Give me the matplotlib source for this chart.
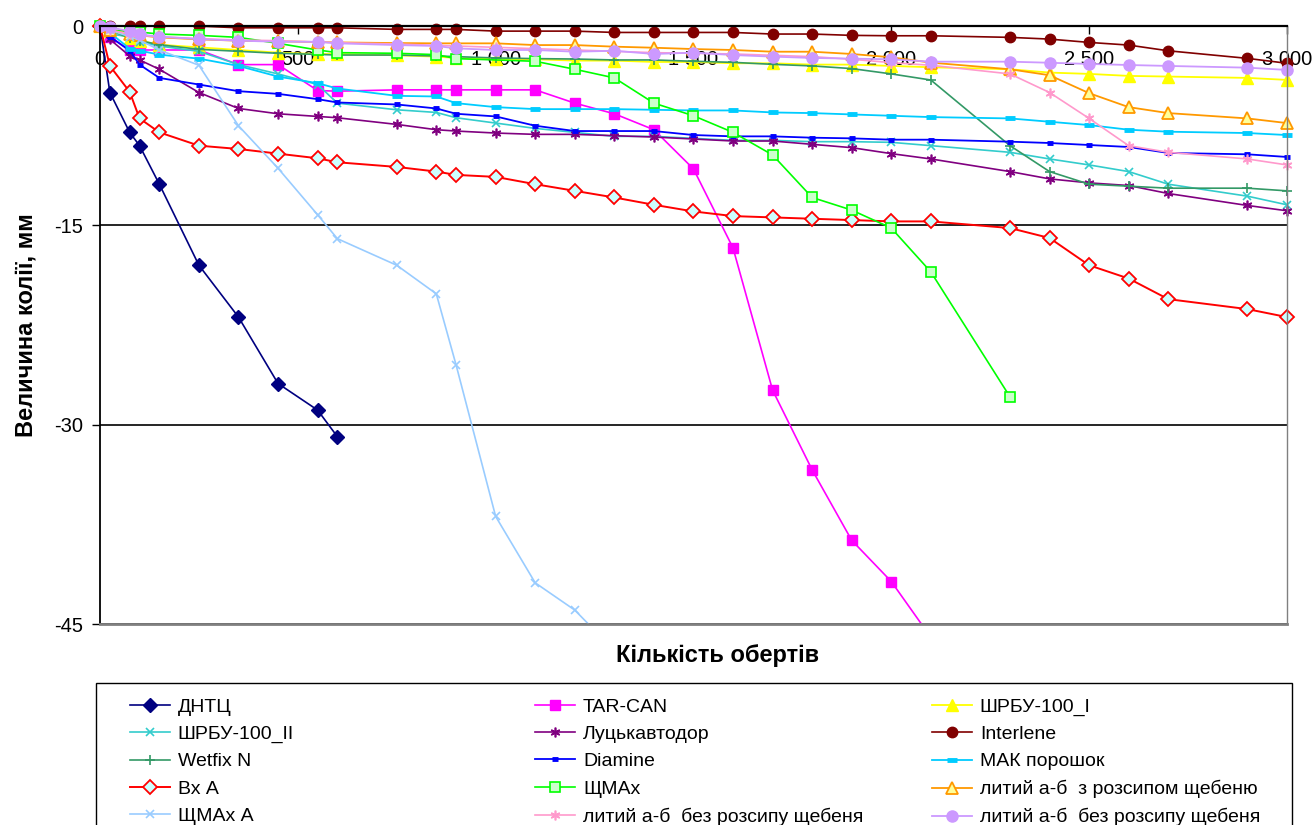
import matplotlib

matplotlib.use("Agg")
import matplotlib.pyplot as plt
from matplotlib.patches import Rectangle

# rounds (x) at which rut depth was measured
X_FULL = [0, 25, 75, 100, 150, 250, 350, 450, 550, 600, 750, 850, 900, 1000,
          1100, 1200, 1300, 1400, 1500, 1600, 1700, 1800, 1900, 2000, 2100,
          2300, 2400, 2500, 2600, 2700, 2900, 3000]
X_SHMAX = [0, 25, 75, 100, 150, 250, 350, 450, 550, 600, 750, 850, 900,
           1100, 1200, 1300, 1400, 1500, 1600, 1700, 1800, 1900, 2000, 2100, 2300]

Y_DNTC = [0, -5.0, -8.0, -9.0, -11.9, -18.0, -21.9, -26.9, -28.9, -30.9]
Y_TARCAN = [0, -0.8, -1.8, -1.8, -1.8, -1.8, -2.9, -2.9, -4.85, -4.9, -4.8, -4.8,
            -4.8, -4.8, -4.8, -5.8, -6.6, -7.8, -10.75, -16.7, -27.4, -33.4,
            -38.7, -41.8, -46.0]
Y_SHRBU_I = [0, -0.4, -0.9, -1.1, -1.4, -1.6, -1.8, -2.0, -2.1, -2.1, -2.2, -2.3,
             -2.4, -2.5, -2.5, -2.6, -2.6, -2.7, -2.7, -2.8, -2.8, -2.9, -2.9,
             -3.0, -3.1, -3.25, -3.5, -3.6, -3.75, -3.8, -3.9, -4.05]
Y_SHRBU_II = [0, -0.6, -0.8, -1.2, -1.5, -1.9, -2.9, -3.6, -4.4, -5.8, -6.3, -6.5,
              -6.9, -7.3, -7.7, -8.0, -8.3, -8.3, -8.45, -8.6, -8.6, -8.7, -8.7,
              -8.75, -9.0, -9.5, -10.0, -10.45, -10.95, -11.9, -12.8, -13.45]
Y_LUTSK = [0, -1.0, -2.25, -2.55, -3.25, -5.0, -6.2, -6.6, -6.8, -6.9, -7.4, -7.8,
           -7.9, -8.05, -8.15, -8.15, -8.25, -8.35, -8.5, -8.65, -8.65, -8.9,
           -9.15, -9.6, -10.0, -10.95, -11.5, -11.8, -12.0, -12.6, -13.5, -13.9]
Y_INTERLENE = [0, 0, 0, 0, 0, 0, -0.13, -0.13, -0.13, -0.13, -0.25, -0.25, -0.25,
               -0.38, -0.38, -0.38, -0.48, -0.48, -0.48, -0.48, -0.6, -0.6, -0.7,
               -0.73, -0.73, -0.85, -0.98, -1.23, -1.43, -1.86, -2.43, -2.8]
Y_WETFIX = [0, -0.3, -0.9, -1.1, -1.4, -1.75, -1.9, -2.05, -2.13, -2.18, -2.18,
            -2.25, -2.3, -2.4, -2.45, -2.48, -2.55, -2.55, -2.65, -2.73, -2.88,
            -3.0, -3.2, -3.6, -4.06, -9.0, -10.95, -11.9, -12.05, -12.2, -12.2, -12.4]
Y_DIAMINE = [0, -0.8, -1.85, -2.9, -3.9, -4.4, -4.9, -5.1, -5.5, -5.75, -5.9, -6.2,
             -6.6, -6.8, -7.5, -7.9, -7.9, -7.9, -8.2, -8.3, -8.3, -8.4, -8.45,
             -8.55, -8.55, -8.7, -8.8, -8.95, -9.1, -9.55, -9.65, -9.85]
Y_MAK = [0, -0.5, -1.7, -1.85, -2.15, -2.45, -3.0, -3.8, -4.3, -4.7, -5.25, -5.3,
         -5.8, -6.1, -6.25, -6.25, -6.25, -6.3, -6.35, -6.35, -6.5, -6.55, -6.65,
         -6.75, -6.85, -6.95, -7.2, -7.45, -7.8, -7.95, -8.05, -8.2]
Y_BXA = [0, -3.0, -4.95, -6.95, -8.0, -9.0, -9.25, -9.6, -9.95, -10.25, -10.6,
         -10.95, -11.2, -11.35, -11.9, -12.4, -12.9, -13.45, -13.95, -14.3, -14.4,
         -14.5, -14.6, -14.7, -14.7, -15.2, -15.95, -18.0, -19.0, -20.55, -21.3, -21.9]
Y_SHMAX = [0, -0.3, -0.4, -0.45, -0.6, -0.7, -0.85, -1.3, -1.8, -2.0, -2.05, -2.15,
           -2.45, -2.65, -3.25, -3.9, -5.8, -6.75, -8.0, -9.7, -12.9, -13.85,
           -15.2, -18.5, -27.9]
Y_LYTYI_Z = [0, -0.3, -0.6, -0.7, -0.85, -1.0, -1.1, -1.15, -1.2, -1.23, -1.28,
             -1.3, -1.3, -1.3, -1.43, -1.43, -1.55, -1.63, -1.73, -1.8, -1.93,
             -1.93, -2.1, -2.35, -2.75, -3.25, -3.7, -5.05, -6.1, -6.55, -6.95, -7.3]
Y_SHMAX_A = [0, -0.3, -0.8, -1.05, -1.8, -2.95, -7.5, -10.7, -14.2, -16.0, -18.0,
             -20.15, -25.5, -36.9, -41.9, -43.95, -47.0]
Y_LYTYI_BEZ1 = [0, -0.3, -0.6, -0.7, -0.8, -0.95, -1.05, -1.1, -1.2, -1.25, -1.35,
                -1.45, -1.5, -1.6, -1.7, -1.8, -1.9, -2.0, -2.05, -2.1, -2.2, -2.3,
                -2.5, -2.75, -2.95, -3.6, -5.0, -6.95, -9.0, -9.5, -10.0, -10.45]
Y_LYTYI_BEZ2 = [0, -0.1, -0.38, -0.63, -0.8, -0.98, -1.1, -1.18, -1.18, -1.3, -1.43,
                -1.5, -1.68, -1.8, -1.8, -1.93, -1.86, -2.1, -2.0, -2.18, -2.3, -2.4,
                -2.45, -2.5, -2.68, -2.68, -2.76, -2.85, -2.93, -3.0, -3.13, -3.3]

SERIES = [
    ("ДНТЦ", X_FULL[:len(Y_DNTC)], Y_DNTC),
    ("TAR-CAN", X_FULL[:len(Y_TARCAN)], Y_TARCAN),
    ("ШРБУ-100_I", X_FULL, Y_SHRBU_I),
    ("ШРБУ-100_II", X_FULL, Y_SHRBU_II),
    ("Луцькавтодор", X_FULL, Y_LUTSK),
    ("Interlene", X_FULL, Y_INTERLENE),
    ("Wetfix N", X_FULL, Y_WETFIX),
    ("Diamine", X_FULL, Y_DIAMINE),
    ("МАК порошок", X_FULL, Y_MAK),
    ("Вх А", X_FULL, Y_BXA),
    ("ЩМАх", X_SHMAX, Y_SHMAX),
    ("литий а-б  з розсипом щебеню", X_FULL, Y_LYTYI_Z),
    ("ЩМАх А", X_FULL[:len(Y_SHMAX_A)], Y_SHMAX_A),
    ("литий а-б  без розсипу щебеня", X_FULL, Y_LYTYI_BEZ1),
    ("литий а-б  без розсипу щебеня ", X_FULL, Y_LYTYI_BEZ2),
]

ASTERISK = (6, 2, 0)
# colour, marker, marker size, face colour, edge width, line width
STYLE = {
    "ДНТЦ": ("#000080", "D", 7, "#000080", 1.0, 1.2),
    "TAR-CAN": ("#FF00FF", "s", 6.5, "#FF00FF", 1.0, 1.2),
    "ШРБУ-100_I": ("#FFFF00", "^", 8, "#FFFF00", 1.0, 1.3),
    "ШРБУ-100_II": ("#33CCCC", "x", 6, "#33CCCC", 1.2, 1.2),
    "Луцькавтодор": ("#800080", ASTERISK, 7, "#800080", 1.2, 1.2),
    "Interlene": ("#800000", "o", 7.5, "#800000", 1.0, 1.2),
    "Wetfix N": ("#339966", "+", 7, "#339966", 1.2, 1.2),
    "Diamine": ("#0000FF", "_", 5, "#0000FF", 3.5, 1.3),
    "МАК порошок": ("#00CCFF", "_", 7, "#00CCFF", 3.5, 1.3),
    "Вх А": ("#FF0000", "D", 7.5, "#CCFFFF", 1.3, 1.4),
    "ЩМАх": ("#00FF00", "s", 7, "#CCFFCC", 1.2, 1.2),
    "литий а-б  з розсипом щебеню": ("#FF9900", "^", 8, "#FFFF99", 1.3, 1.3),
    "ЩМАх А": ("#99CCFF", "x", 6, "#99CCFF", 1.2, 1.2),
    "литий а-б  без розсипу щебеня": ("#FF99CC", ASTERISK, 7, "#FF99CC", 1.2, 1.2),
    "литий а-б  без розсипу щебеня ": ("#CC99FF", "o", 8, "#CC99FF", 1.0, 1.3),
}
CLIPPED = {"TAR-CAN", "ЩМАх А"}

X_TICKS = [0, 500, 1000, 1500, 2000, 2500, 3000]
X_TICK_LABELS = ["0", "500", "1 000", "1 500", "2 000", "2 500", "3 000"]
Y_TICKS = [-45, -30, -15, 0]
Y_TICK_LABELS = ["-45", "-30", "-15", "0"]

plt.rcParams["font.family"] = ["Liberation Sans", "DejaVu Sans"]
plt.rcParams["axes.unicode_minus"] = False

fig = plt.figure(figsize=(13.14, 8.25), dpi=100)
ax = fig.add_axes([0.0761, 0.2436, 0.9033, 0.7248])

for name, xs, ys in SERIES:
    color, marker, ms, mfc, mew, lw = STYLE[name]
    ax.plot(xs, ys, label=name.strip(), color=color, lw=lw, marker=marker, ms=ms,
            mfc=mfc, mec=color, mew=mew, clip_on=(name in CLIPPED))

ax.set_xlim(0, 3000)
ax.set_ylim(-45, 0)
ax.set_xticks(X_TICKS)
ax.set_xticklabels(X_TICK_LABELS)
ax.set_yticks(Y_TICKS)
ax.set_yticklabels(Y_TICK_LABELS)
ax.tick_params(axis="x", top=True, bottom=False, labeltop=True, labelbottom=False,
               direction="in", length=6, width=1, labelsize=14.5, pad=-31)
ax.tick_params(axis="y", direction="out", length=6, width=1, labelsize=14.5, pad=6)
ax.yaxis.grid(True, color="black", lw=1.2)

ax.spines["top"].set_color("black")
ax.spines["top"].set_linewidth(1.6)
ax.spines["left"].set_linewidth(1.3)
ax.spines["bottom"].set_color("#808080")
ax.spines["bottom"].set_linewidth(2)
ax.spines["right"].set_color("#808080")
ax.spines["right"].set_linewidth(1)

fig.text(0.5464, 0.205, "Кількість обертів", ha="center", va="center",
         fontsize=17, fontweight="bold")
fig.text(0.0198, 0.606, "Величина колії, мм", ha="center", va="center",
         rotation=90, fontsize=17, fontweight="bold")

# Excel-like legend: 3 columns filled row by row, box runs off the bottom
handles, labels = ax.get_legend_handles_labels()
col_x = [0.0989, 0.4072, 0.7093]
for c, x0 in enumerate(col_x):
    idx = list(range(c, len(handles), 3))
    fig.legend([handles[i] for i in idx], [labels[i] for i in idx],
               loc="upper left", bbox_to_anchor=(x0, 0.154), frameon=False,
               fontsize=14, handlelength=2.06, handletextpad=0.4,
               labelspacing=0.5, borderpad=0, borderaxespad=0)
fig.add_artist(Rectangle((0.0731, -0.05), 0.9102, 0.2221, transform=fig.transFigure,
                         fill=False, ec="black", lw=1))

fig.savefig("out.png", dpi=100)
